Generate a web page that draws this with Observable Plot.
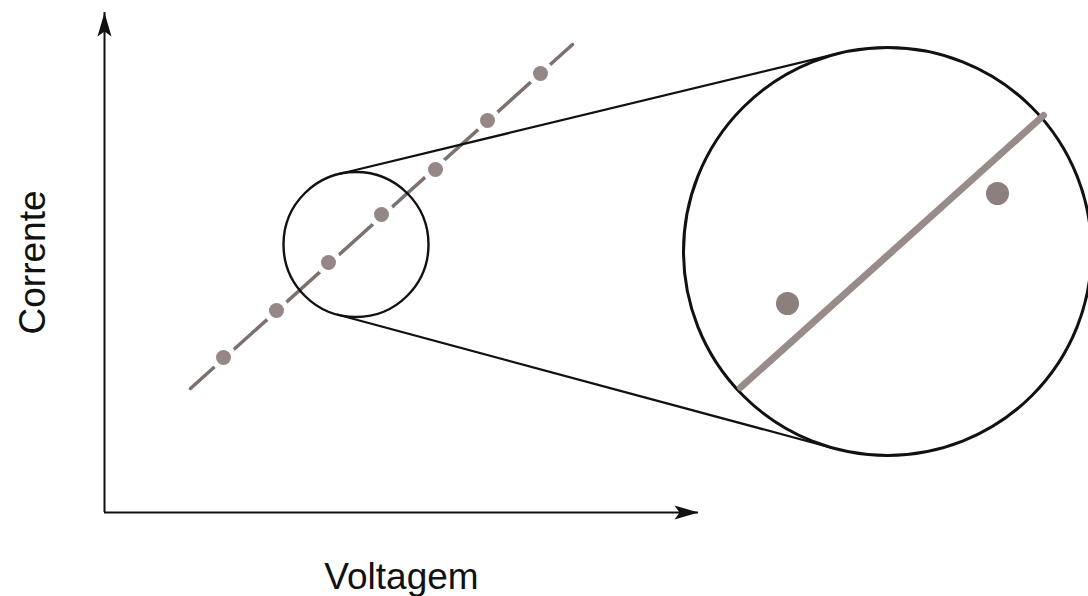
<!DOCTYPE html>
<html>
<head>
<meta charset="utf-8">
<script src="https://cdn.jsdelivr.net/npm/d3@7"></script>
<script src="https://cdn.jsdelivr.net/npm/@observablehq/plot@0.6"></script>
<style>
  html, body { margin: 0; padding: 0; background: #fff; }
  #chart svg { display: block; }
</style>
</head>
<body>
<div id="chart"></div>
<script>
// ---- Data (arbitrary units: voltage on x, current on y) ----
const voltage = [2.38, 3.44, 4.48, 5.54, 6.62, 7.66, 8.72];
const current = [3.10, 4.04, 5.00, 5.96, 6.86, 7.84, 8.78];
const fitVoltage = [1.72, 9.36];
const fitCurrent = [2.48, 9.36];
// magnified view (inside the large circle)
const zoomVoltage = [13.66, 17.86];
const zoomCurrent = [4.18, 6.38];
const zoomFitVoltage = [12.72, 18.78];
const zoomFitCurrent = [2.50, 7.94];
// labels
const xLabel = "Voltagem";
const yLabel = "Corrente";

// ---- Layout ----
const W = 1088, H = 596;
const M = {left: 104, top: 12, right: 390, bottom: 84};
const unit = 50; // pixels per data unit (same on both axes)
const xDomain = [0, (W - M.left - M.right) / unit];
const yDomain = [0, (H - M.top - M.bottom) / unit];

// magnifier geometry (data units)
const lensSmall = {x: 5.03, y: 5.36, r: 1.45};
const lensBig = {x: 15.66, y: 5.22, r: 4.08};

const points = voltage.map((v, i) => ({v, c: current[i]}));
const fit = fitVoltage.map((v, i) => ({v, c: fitCurrent[i]}));
const zoomPts = zoomVoltage.map((v, i) => ({v, c: zoomCurrent[i]}));
const zoomFit = zoomFitVoltage.map((v, i) => ({v, c: zoomFitCurrent[i]}));

function tangents(a, b) {
  const dx = b.x - a.x, dy = b.y - a.y, L = Math.hypot(dx, dy);
  const ux = dx / L, uy = dy / L;
  const cos = (a.r - b.r) / L, sin = Math.sqrt(1 - cos * cos);
  return [1, -1].map(s => {
    const nx = ux * cos - s * uy * sin, ny = uy * cos + s * ux * sin;
    return {x1: a.x + a.r * nx, y1: a.y + a.r * ny, x2: b.x + b.r * nx, y2: b.y + b.r * ny};
  });
}
const tang = tangents(lensSmall, lensBig);

// notched arrowheads (tip at the symbol's origin)
const arrowUp = {draw(ctx) {
  ctx.moveTo(0, 0); ctx.lineTo(-7, 24); ctx.lineTo(0, 19); ctx.lineTo(7, 24); ctx.closePath();
}};
const arrowRight = {draw(ctx) {
  ctx.moveTo(0, 0); ctx.lineTo(-24, -7); ctx.lineTo(-19, 0); ctx.lineTo(-24, 7); ctx.closePath();
}};

const ink = "#111";

const chart = Plot.plot({
  width: W, height: H,
  marginLeft: M.left, marginTop: M.top, marginRight: M.right, marginBottom: M.bottom,
  x: {domain: xDomain, axis: null},
  y: {domain: yDomain, axis: null},
  style: {background: "#fff", fontFamily: "'Liberation Sans', Arial, Helvetica, sans-serif", overflow: "visible"},
  marks: [
    // fitted line with measured points
    Plot.line(fit, {x: "v", y: "c", stroke: "#7d716e", strokeWidth: 3.5}),
    Plot.dot(points, {x: "v", y: "c", r: 13, fill: "#fff", stroke: "none"}),
    Plot.dot(points, {x: "v", y: "c", r: 7.5, fill: "#958785", stroke: "none"}),
    // small lens
    Plot.dot([lensSmall], {x: "x", y: "y", r: lensSmall.r * unit, fill: "none", stroke: ink, strokeWidth: 2.4}),
    // tangent connectors
    Plot.link(tang, {x1: "x1", y1: "y1", x2: "x2", y2: "y2", stroke: ink, strokeWidth: 2.2}),
    // big lens
    Plot.dot([lensBig], {x: "x", y: "y", r: lensBig.r * unit, fill: "none", stroke: ink, strokeWidth: 3}),
    Plot.line(zoomFit, {x: "v", y: "c", stroke: "#978c88", strokeWidth: 7}),
    Plot.dot(zoomPts, {x: "v", y: "c", r: 11.5, fill: "#8b807c", stroke: "none"}),
    // axes
    Plot.ruleX([0], {stroke: ink, strokeWidth: 2}),
    Plot.ruleY([0], {stroke: ink, strokeWidth: 2}),
    Plot.dot([{v: 0, c: yDomain[1]}], {x: "v", y: "c", symbol: arrowUp, fill: ink, stroke: "none"}),
    Plot.dot([{v: xDomain[1], c: 0}], {x: "v", y: "c", symbol: arrowRight, fill: ink, stroke: "none"}),
    // axis labels
    Plot.text([xLabel], {text: d => d, frameAnchor: "bottom", textAnchor: "middle", lineAnchor: "middle", dy: 65, fontSize: 37, fill: ink}),
    Plot.text([yLabel], {text: d => d, frameAnchor: "left", textAnchor: "middle", lineAnchor: "middle", rotate: -90, dx: -71, fontSize: 37, fill: ink})
  ]
});
document.getElementById("chart").appendChild(chart);
</script>
</body>
</html>
